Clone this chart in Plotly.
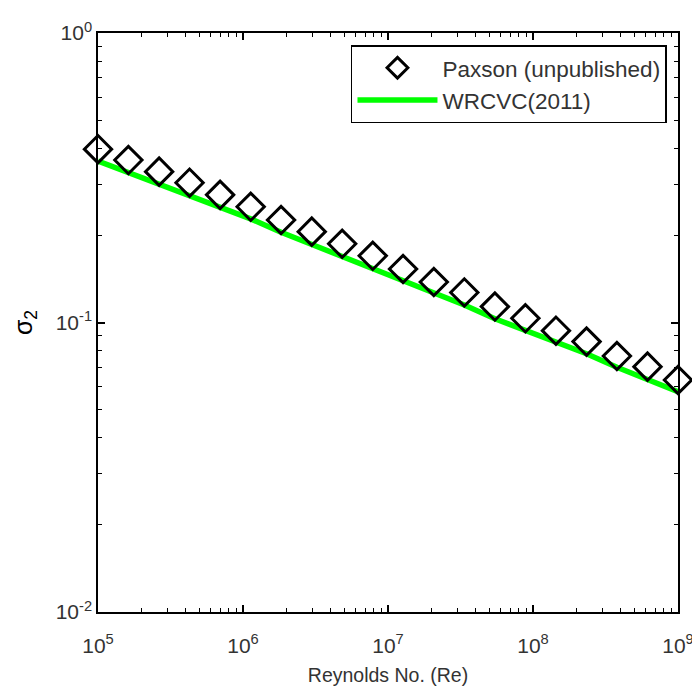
import plotly.graph_objects as go

re_vals = [1.00e5, 1.62e5, 2.64e5, 4.28e5, 6.95e5, 1.13e6, 1.83e6, 2.98e6, 4.83e6, 7.85e6,
           1.27e7, 2.07e7, 3.36e7, 5.46e7, 8.86e7, 1.44e8, 2.34e8, 3.79e8, 6.16e8, 1.00e9]
paxson = [0.397, 0.364, 0.332, 0.304, 0.276, 0.251, 0.226, 0.206, 0.187, 0.170,
          0.153, 0.138, 0.127, 0.1135, 0.1034, 0.0937, 0.0859, 0.0766, 0.0704, 0.0633]
wrcvc = [0.361, 0.330, 0.300, 0.274, 0.250, 0.228, 0.205, 0.186, 0.169, 0.154,
         0.139, 0.1255, 0.115, 0.103, 0.094, 0.085, 0.078, 0.070, 0.0635, 0.0577]

x_exps = [5, 6, 7, 8, 9]
y_exps = [-2, -1, 0]

FONT = "Liberation Sans"

x_tickvals = [10.0 ** e for e in x_exps]
x_ticktext = [f"10<sup>{e}</sup>" for e in x_exps]
y_tickvals = [10.0 ** e for e in y_exps]
y_ticktext = [f"10<sup>{e}</sup>" for e in y_exps]
x_minor = [m * 10.0 ** e for e in x_exps[:-1] for m in range(2, 10)]
y_minor = [m * 10.0 ** e for e in y_exps[:-1] for m in range(2, 10)]

fig = go.Figure()
fig.add_trace(go.Scatter(x=re_vals, y=wrcvc, mode="lines", name="WRCVC(2011)",
                         line=dict(color="#00ff00", width=5.5), cliponaxis=False))
fig.add_trace(go.Scatter(x=re_vals, y=paxson, mode="markers", name="Paxson (unpublished)",
                         cliponaxis=False,
                         marker=dict(symbol="diamond-open", size=21, color="black",
                                     line=dict(color="black", width=3))))

line_common = dict(showgrid=False, zeroline=False, showline=True, linecolor="black",
                   linewidth=1.5, mirror="allticks", ticks="inside", tickcolor="black",
                   automargin=False)

fig.update_xaxes(type="log", range=[5, 9], tickmode="array", tickvals=x_tickvals, ticktext=x_ticktext,
                 ticklen=7, tickwidth=1.5, ticklabeloverflow="allow",
                 tickfont=dict(family=FONT, size=21, color="#333"),
                 title=dict(text="Reynolds No. (Re)", font=dict(family=FONT, size=19.5, color="#333"), standoff=12),
                 ticklabelstandoff=14, **line_common)
fig.update_yaxes(type="log", range=[-2, 0], tickmode="array", tickvals=y_tickvals, ticktext=y_ticktext,
                 ticklen=7, tickwidth=1.5, ticklabeloverflow="allow",
                 tickfont=dict(family=FONT, size=21, color="#333"),
                 title=dict(text="σ<sub>2</sub>", font=dict(family=FONT, size=25, color="black"), standoff=16),
                 **line_common)

# overlay axes carrying the minor ticks
fig.update_layout(
    xaxis2=dict(type="log", range=[5, 9], overlaying="x", anchor="y", side="bottom",
                tickmode="array", tickvals=x_minor, showticklabels=False,
                ticklen=4, tickwidth=1.2, **line_common),
    yaxis2=dict(type="log", range=[-2, 0], overlaying="y", anchor="x", side="left",
                tickmode="array", tickvals=y_minor, showticklabels=False,
                ticklen=4, tickwidth=1.2, **line_common),
)
fig.add_trace(go.Scatter(x=[], y=[], xaxis="x2", yaxis="y2", showlegend=False, hoverinfo="skip"))

fig.update_layout(
    width=692, height=688,
    margin=dict(l=98, r=14, t=33, b=76),
    plot_bgcolor="white", paper_bgcolor="white",
    legend=dict(x=0.981, y=0.979, xanchor="right", yanchor="top",
                bordercolor="black", borderwidth=1.5, bgcolor="white",
                traceorder="reversed", itemwidth=80, tracegroupgap=4,
                font=dict(family=FONT, size=22.5, color="#333")),
)

fig.write_html("out.html")
